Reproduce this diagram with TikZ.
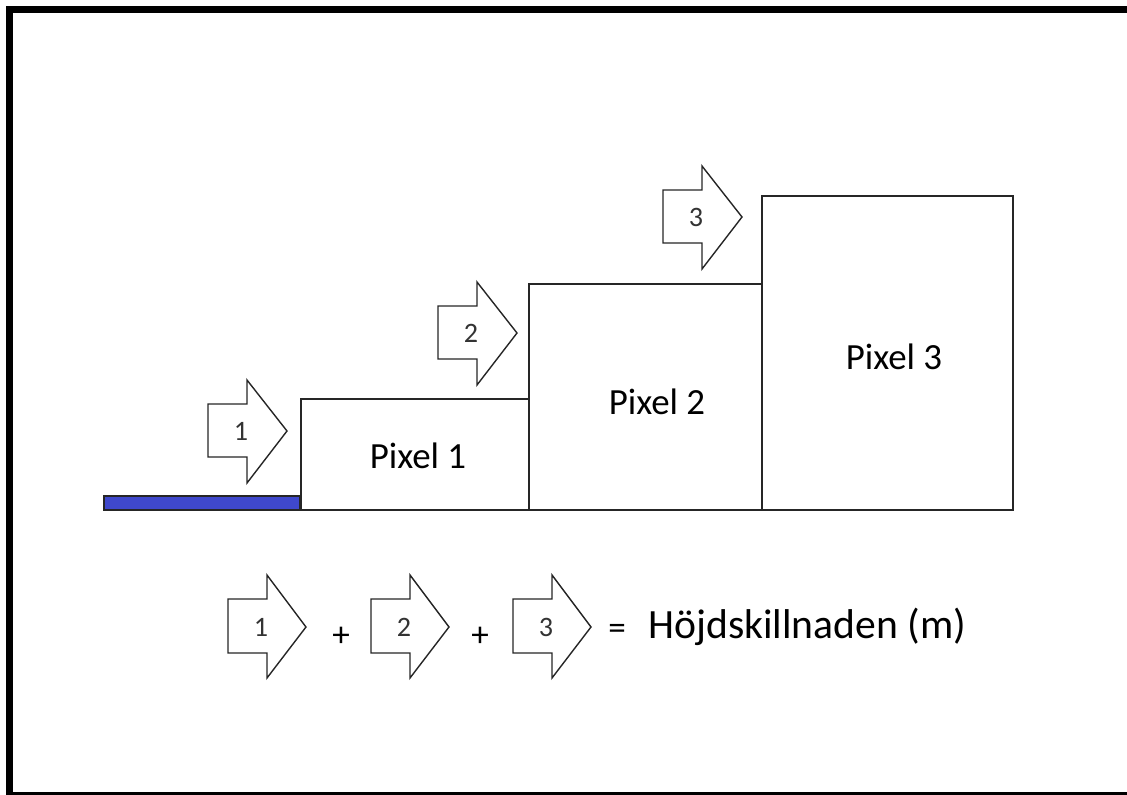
\documentclass[tikz,border=0pt]{standalone}
\usepackage{fontspec}
\setmainfont{Carlito}
\usepackage{xcolor}
\definecolor{barblue}{HTML}{3F48CC}
\definecolor{linegray}{HTML}{262626}

\begin{document}
\begin{tikzpicture}[x=0.02cm, y=-0.02cm,
    pixbox/.style={draw=linegray, line width=1.1pt},
    pilform/.style={draw=linegray, line width=0.8pt, fill=white},
    pilnum/.style={font=\fontsize{16}{18}\selectfont, text=black!80, inner sep=0pt},
    pixlabel/.style={font=\fontsize{21}{25}\selectfont, inner sep=0pt}]
  \useasboundingbox (0,0) rectangle (1127,795);

  % Frame
  \draw[line width=4pt] (1127,9.5) -- (9.5,9.5) -- (9.5,795.5) -- (1127,795.5);

  % Ground bar
  \draw[draw=black!85, fill=barblue, line width=0.9pt] (104,496) rectangle (300,510);

  % Pixels
  \draw[pixbox] (301,399) rectangle (529,510);
  \draw[pixbox] (529,284) rectangle (762,510);
  \draw[pixbox] (762,196) rectangle (1013,510);
  \node[pixlabel] (pix1) at (418,456) {Pixel 1};
  \node[pixlabel] (pix2) at (657,402) {Pixel 2};
  \node[pixlabel] (pix3) at (894,357) {Pixel 3};

  % Steps
  \foreach \n/\bx/\ty in {1/208/380, 2/438/282, 3/663/166} {
    \draw[pilform] (\bx,\ty+24) -- (\bx+39,\ty+24) -- (\bx+39,\ty) -- (\bx+79,\ty+51)
      -- (\bx+39,\ty+103) -- (\bx+39,\ty+77) -- (\bx,\ty+77) -- cycle;
    \node[pilnum] (steg\n) at (\bx+33,\ty+51) {\n};
  }

  % Sum
  \foreach \n/\bx in {1/228, 2/371, 3/513} {
    \draw[pilform] (\bx,599) -- (\bx+39,599) -- (\bx+39,575) -- (\bx+78,627)
      -- (\bx+39,678) -- (\bx+39,653) -- (\bx,653) -- cycle;
    \node[pilnum] (sum\n) at (\bx+33,627) {\n};
  }
  \node[font=\fontsize{20}{24}\selectfont, inner sep=0pt] (plus1) at (341,637) {+};
  \node[font=\fontsize{20}{24}\selectfont, inner sep=0pt] (plus2) at (480,637) {+};
  \node[font=\fontsize{20}{24}\selectfont, inner sep=0pt] (lika) at (617,632) {=};
  \node[font=\fontsize{23.7}{28}\selectfont, inner sep=0pt, anchor=base west]
    (hojd) at (648,638) {Höjdskillnaden (m)};
\end{tikzpicture}
\end{document}
